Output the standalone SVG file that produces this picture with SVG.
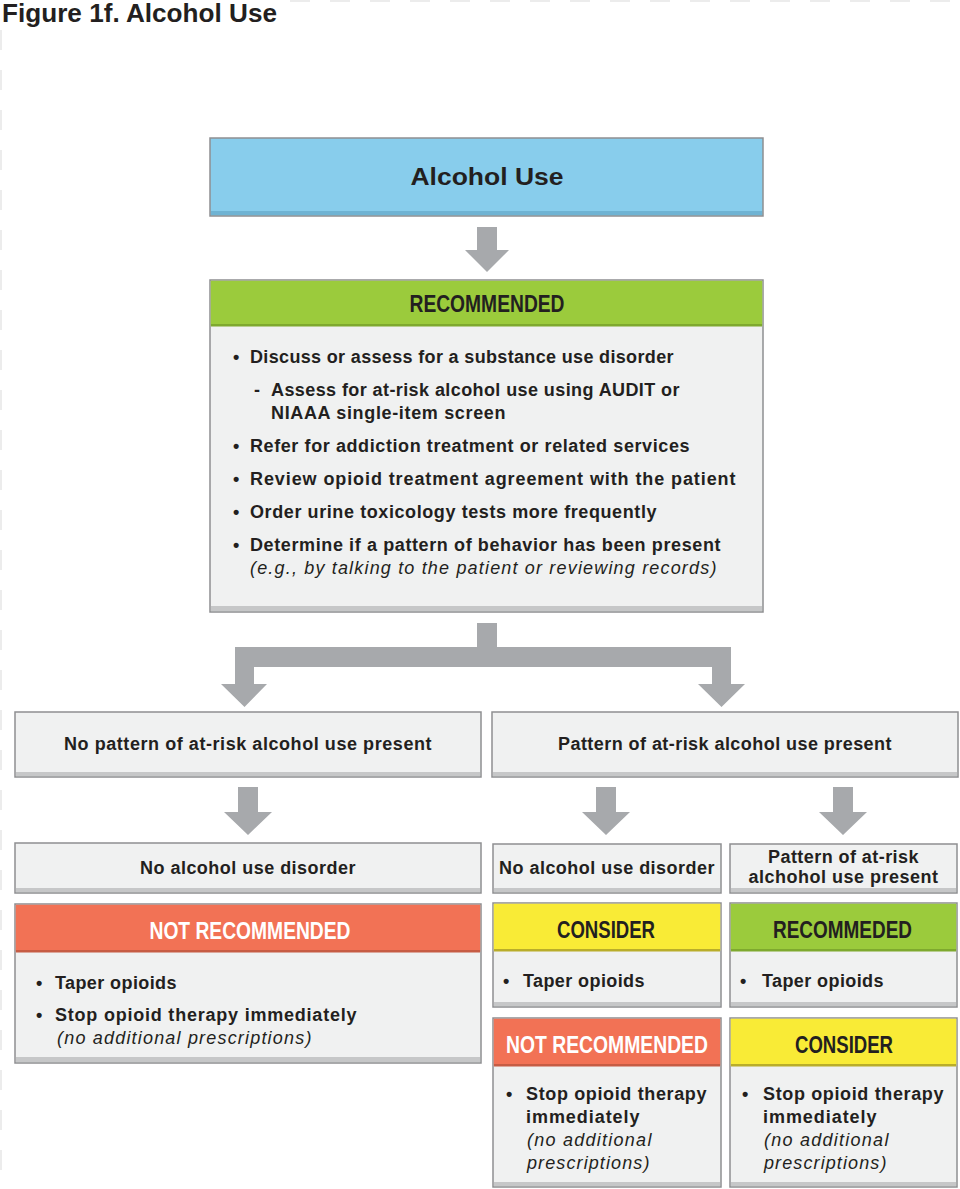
<svg xmlns="http://www.w3.org/2000/svg" width="960" height="1189" viewBox="0 0 960 1189">
<style>
.page{fill:#ffffff}
.edge{stroke:#ececec;stroke-width:2;stroke-dasharray:20 20;fill:none}
.box{stroke:#8e8f91;stroke-width:1.5}
.body{fill:#f0f1f1}
.blue{fill:#88cdec}
.green{fill:#9bcb3c}
.orange{fill:#f27255}
.yellow{fill:#f9eb36}
.shade{fill:#c6c7c8}
.arrow{fill:#a7a9ac}
.title{font-family:"Liberation Sans",Arial,sans-serif;font-weight:bold;font-size:26px;fill:#231f20}
.hd{font-family:"Liberation Sans",Arial,sans-serif;font-weight:bold;font-size:23px;fill:#231f20;text-anchor:middle}
.hdw{fill:#ffffff}
.t{font-family:"Liberation Sans",Arial,sans-serif;font-weight:bold;font-size:18px;fill:#231f20;letter-spacing:0.5px}
.c{text-anchor:middle}
.i{font-family:"Liberation Sans",Arial,sans-serif;font-style:italic;font-size:18px;fill:#231f20;letter-spacing:0.6px}
</style>
<rect class="page" x="0" y="0" width="960" height="1189"/>
<path class="edge" d="M1,30 V1189 M290,1 H960"/>
<text class="title" x="2" y="22" textLength="275" lengthAdjust="spacingAndGlyphs">Figure 1f. Alcohol Use</text>

<g id="connectors">
<polygon class="arrow" points="477,227 497,227 497,250 509,250 487,272 465,250 477,250"/>
<path class="arrow" d="M477,623 H497 V647 H731 V684 H745 L721.5,707 L698,684 H712 V667 H254 V684 H267 L244.5,707 L221,684 H235 V647 H477 Z"/>
<polygon class="arrow" points="238,787 258,787 258,812 272,812 248,835 224,812 238,812"/>
<polygon class="arrow" points="596,787 616,787 616,812 630,812 606,835 582,812 596,812"/>
<polygon class="arrow" points="833,787 853,787 853,812 867,812 843,835 819,812 833,812"/>
</g>

<g id="alcohol-use">
<rect class="box blue" x="210" y="138" width="553" height="78"/>
<rect x="211" y="211" width="551" height="4" fill="#6fb3d3"/>
<text class="hd" x="487" y="185" font-size="28" textLength="153" lengthAdjust="spacingAndGlyphs">Alcohol Use</text>
</g>

<g id="recommended">
<rect class="box body" x="210" y="280" width="553" height="332"/>
<rect class="green" x="210.75" y="280.75" width="551.5" height="45"/>
<rect x="211" y="324" width="551" height="2.5" fill="#7ea92e"/>
<rect class="shade" x="211" y="606" width="551" height="5"/>
<text class="hd" x="487" y="312" textLength="155" lengthAdjust="spacingAndGlyphs">RECOMMENDED</text>
<text class="t" x="233" y="363">•</text>
<text class="t" x="250" y="363" textLength="424" lengthAdjust="spacing">Discuss or assess for a substance use disorder</text>
<text class="t" x="254" y="396">-</text>
<text class="t" x="271" y="396" textLength="409" lengthAdjust="spacing">Assess for at-risk alcohol use using AUDIT or</text>
<text class="t" x="271" y="419" textLength="235" lengthAdjust="spacing">NIAAA single-item screen</text>
<text class="t" x="233" y="452">•</text>
<text class="t" x="250" y="452" textLength="440" lengthAdjust="spacing">Refer for addiction treatment or related services</text>
<text class="t" x="233" y="485">•</text>
<text class="t" x="250" y="485" textLength="486" lengthAdjust="spacing">Review opioid treatment agreement with the patient</text>
<text class="t" x="233" y="518">•</text>
<text class="t" x="250" y="518" textLength="407" lengthAdjust="spacing">Order urine toxicology tests more frequently</text>
<text class="t" x="233" y="551">•</text>
<text class="t" x="250" y="551" textLength="471" lengthAdjust="spacing">Determine if a pattern of behavior has been present</text>
<text class="i" x="250" y="574" textLength="467" lengthAdjust="spacing">(e.g., by talking to the patient or reviewing records)</text>
</g>

<g id="no-pattern">
<rect class="box body" x="15" y="712" width="466" height="65"/>
<rect class="shade" x="16" y="772" width="464" height="4"/>
<text class="t c" x="248" y="750" textLength="368" lengthAdjust="spacing">No pattern of at-risk alcohol use present</text>
</g>

<g id="pattern">
<rect class="box body" x="492" y="712" width="466" height="65"/>
<rect class="shade" x="493" y="772" width="464" height="4"/>
<text class="t c" x="725" y="750" textLength="334" lengthAdjust="spacing">Pattern of at-risk alcohol use present</text>
</g>

<g id="no-aud-left">
<rect class="box body" x="15" y="843" width="466" height="50"/>
<rect class="shade" x="16" y="888" width="464" height="4"/>
<text class="t c" x="248" y="874" textLength="216" lengthAdjust="spacing">No alcohol use disorder</text>
</g>

<g id="no-aud-mid">
<rect class="box body" x="493" y="844" width="228" height="49"/>
<rect class="shade" x="494" y="888" width="226" height="4"/>
<text class="t c" x="607" y="874" textLength="216" lengthAdjust="spacing">No alcohol use disorder</text>
</g>

<g id="pattern-right">
<rect class="box body" x="730" y="844" width="227" height="49"/>
<rect class="shade" x="731" y="888" width="225" height="4"/>
<text class="t c" x="843.5" y="863" textLength="151" lengthAdjust="spacing">Pattern of at-risk</text>
<text class="t c" x="843.5" y="883" textLength="190" lengthAdjust="spacing">alchohol use present</text>
</g>

<g id="not-rec-left">
<rect class="box body" x="15" y="904" width="466" height="159"/>
<rect class="orange" x="15.75" y="904.75" width="464.5" height="47"/>
<rect x="16" y="950" width="464" height="2.5" fill="#c65c44"/>
<rect class="shade" x="16" y="1057" width="464" height="5"/>
<text class="hd hdw" x="250" y="939" textLength="201" lengthAdjust="spacingAndGlyphs">NOT RECOMMENDED</text>
<text class="t" x="36" y="989">•</text>
<text class="t" x="55" y="989" textLength="122" lengthAdjust="spacing">Taper opioids</text>
<text class="t" x="36" y="1021">•</text>
<text class="t" x="55" y="1021" textLength="302" lengthAdjust="spacing">Stop opioid therapy immediately</text>
<text class="i" x="57" y="1044" textLength="255" lengthAdjust="spacing">(no additional prescriptions)</text>
</g>

<g id="consider-taper">
<rect class="box body" x="493" y="903" width="228" height="104"/>
<rect class="yellow" x="493.75" y="903.75" width="226.5" height="47"/>
<rect x="494" y="949" width="226" height="2.5" fill="#b9ad2a"/>
<rect class="shade" x="494" y="1002" width="226" height="4"/>
<text class="hd" x="606" y="938" textLength="98" lengthAdjust="spacingAndGlyphs">CONSIDER</text>
<text class="t" x="503" y="987">•</text>
<text class="t" x="523" y="987" textLength="122" lengthAdjust="spacing">Taper opioids</text>
</g>

<g id="recommeded-taper">
<rect class="box body" x="730" y="903" width="227" height="104"/>
<rect class="green" x="730.75" y="903.75" width="225.5" height="47"/>
<rect x="731" y="949" width="225" height="2.5" fill="#7ea92e"/>
<rect class="shade" x="731" y="1002" width="225" height="4"/>
<text class="hd" x="842.5" y="938" textLength="139" lengthAdjust="spacingAndGlyphs">RECOMMEDED</text>
<text class="t" x="740" y="987">•</text>
<text class="t" x="762" y="987" textLength="122" lengthAdjust="spacing">Taper opioids</text>
</g>

<g id="not-rec-stop">
<rect class="box body" x="493" y="1018" width="228" height="169"/>
<rect class="orange" x="493.75" y="1018.75" width="226.5" height="47"/>
<rect x="494" y="1064" width="226" height="2.5" fill="#c65c44"/>
<rect class="shade" x="494" y="1182" width="226" height="4"/>
<text class="hd hdw" x="607" y="1053" textLength="202" lengthAdjust="spacingAndGlyphs">NOT RECOMMENDED</text>
<text class="t" x="506" y="1100">•</text>
<text class="t" x="526" y="1100" textLength="181" lengthAdjust="spacing">Stop opioid therapy</text>
<text class="t" x="526" y="1123" textLength="114" lengthAdjust="spacing">immediately</text>
<text class="i" x="527" y="1146" textLength="125" lengthAdjust="spacing">(no additional</text>
<text class="i" x="527" y="1169" textLength="123" lengthAdjust="spacing">prescriptions)</text>
</g>

<g id="consider-stop">
<rect class="box body" x="730" y="1018" width="227" height="169"/>
<rect class="yellow" x="730.75" y="1018.75" width="225.5" height="47"/>
<rect x="731" y="1064" width="225" height="2.5" fill="#b9ad2a"/>
<rect class="shade" x="731" y="1182" width="225" height="4"/>
<text class="hd" x="844" y="1053" textLength="98" lengthAdjust="spacingAndGlyphs">CONSIDER</text>
<text class="t" x="742" y="1100">•</text>
<text class="t" x="763" y="1100" textLength="181" lengthAdjust="spacing">Stop opioid therapy</text>
<text class="t" x="763" y="1123" textLength="114" lengthAdjust="spacing">immediately</text>
<text class="i" x="764" y="1146" textLength="125" lengthAdjust="spacing">(no additional</text>
<text class="i" x="764" y="1169" textLength="123" lengthAdjust="spacing">prescriptions)</text>
</g>
</svg>
